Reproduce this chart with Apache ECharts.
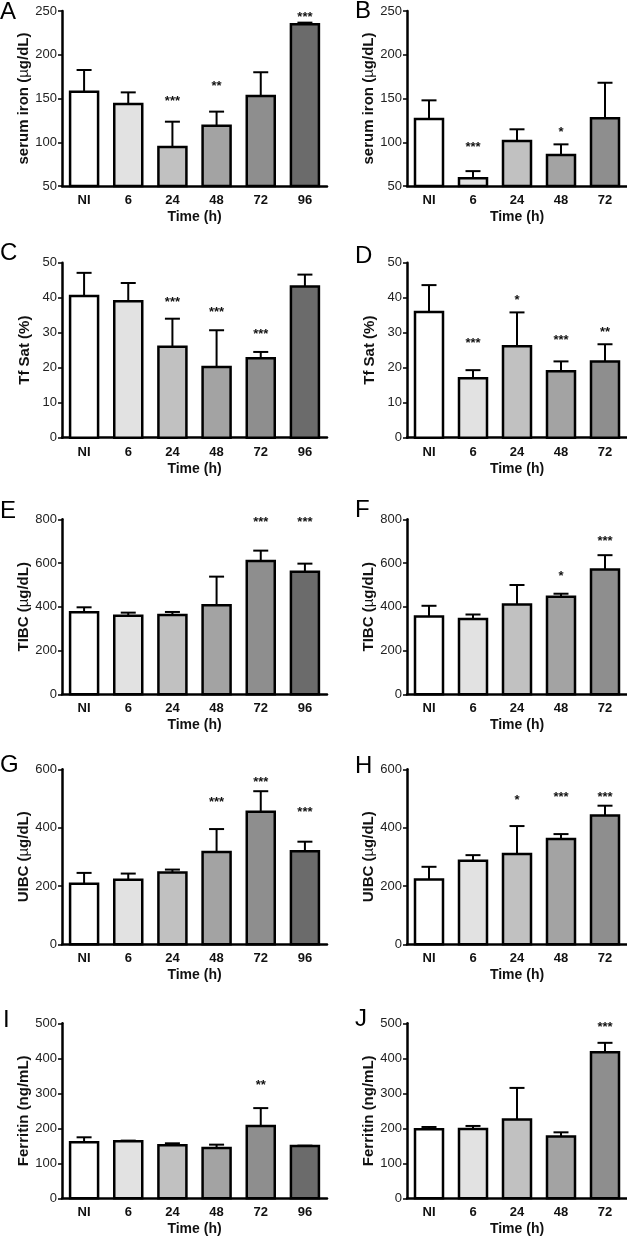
<!DOCTYPE html>
<html><head><meta charset="utf-8">
<script src="https://cdn.jsdelivr.net/npm/echarts@6/dist/echarts.min.js"></script>
<style>html,body{margin:0;padding:0;background:#fff}#c{width:627px;height:1238px}</style>
</head><body><div id="c"></div>
<script>
// ---------- DATA ----------
const catsLeft = ['NI', '6', '24', '48', '72', '96'];
const catsRight = ['NI', '6', '24', '48', '72'];
const barColors = ['#ffffff', '#e2e2e2', '#c1c1c1', '#a3a3a3', '#8e8e8e', '#6b6b6b'];

// A: serum iron (left)
const A_mean = [157.8, 143.7, 94.6, 119, 153, 234.8];
const A_top = [182.6, 157, 123.5, 135, 180, 236.7];
const A_sig = ['', '', '***', '**', '', '***'];
const A_sigAt = [null, null, 150, 167, null, 246.6];
// B: serum iron (right)
const B_mean = [126.6, 58.8, 101.4, 85.4, 127.3];
const B_top = [147.9, 67, 114.8, 97.6, 168];
const B_sig = ['', '***', '', '*', ''];
const B_sigAt = [null, 97.6, null, 114.8, null];
// C: Tf Sat (left)
const C_mean = [40.5, 39.0, 26.0, 20.2, 22.7, 43.2];
const C_top = [47.1, 44.2, 34.0, 30.7, 24.5, 46.6];
const C_sig = ['', '', '***', '***', '***', ''];
const C_sigAt = [null, null, 39.5, 36.7, 30.3, null];
// D: Tf Sat (right)
const D_mean = [35.9, 17.0, 26.1, 19.0, 21.8];
const D_top = [43.6, 19.3, 35.8, 21.8, 26.7];
const D_sig = ['', '***', '*', '***', '**'];
const D_sigAt = [null, 27.8, 40.2, 28.7, 30.8];
// E: TIBC (left)
const E_mean = [374.9, 359.6, 362.7, 406.9, 609.5, 560.8];
const E_top = [397.7, 373.3, 376.4, 537.9, 656.8, 597.3];
const E_sig = ['', '', '', '', '***', '***'];
const E_sigAt = [null, null, null, null, 800, 800];
// F: TIBC (right)
const F_mean = [355.6, 344.8, 410.7, 446, 570.1];
const F_top = [404.6, 364.8, 499.6, 459.8, 636];
const F_sig = ['', '', '', '*', '***'];
const F_sigAt = [null, null, null, 554.8, 711];
// G: UIBC (left)
const G_mean = [207.2, 220.9, 245.9, 316.5, 454.3, 318.8];
const G_top = [244.8, 242.5, 256.2, 395.1, 524.9, 351.8];
const G_sig = ['', '', '', '***', '***', '***'];
const G_sigAt = [null, null, null, 497.5, 565.9, 463.4];
// H: UIBC (right)
const H_mean = [222.1, 286.3, 309.2, 360.7, 442];
const H_top = [265.7, 305.7, 405.4, 377.9, 475.2];
const H_sig = ['', '', '*', '***', '***'];
const H_sigAt = [null, null, 502.7, 515.3, 515.3];
// I: Ferritin (left)
const I_mean = [160, 162.8, 151.3, 143.7, 206.9, 149.4];
const I_top = [174.3, 164.8, 157.1, 153.3, 257.7, 150.4];
const I_sig = ['', '', '', '', '**', ''];
const I_sigAt = [null, null, null, null, 332.4, null];
// J: Ferritin (right)
const J_mean = [197.1, 198.1, 225, 176.9, 417.3];
const J_top = [203.8, 206.7, 315.4, 188.5, 444.2];
const J_sig = ['', '', '', '', '***'];
const J_sigAt = [null, null, null, null, 498];

const xName = 'Time (h)';
const yNames = {
  iron: '{b|serum iron (}{m|µ}{b|g/dL)}',
  tf: '{b|Tf Sat (%)}',
  tibc: '{b|TIBC (}{m|µ}{b|g/dL)}',
  uibc: '{b|UIBC (}{m|µ}{b|g/dL)}',
  fer: '{b|Ferritin (ng/mL)}'
};

// ---------- LAYOUT ----------
const FONT = "'Liberation Sans', Arial, Helvetica, sans-serif";
const rowTops = [11, 262.7, 519.3, 769.3, 1023.3];
const plotH = 175;
const colLeft = [62, 407];
const colWidth = [265, 220];

const panels = [
  {L: 'A', row: 0, col: 0, mean: A_mean, top: A_top, sig: A_sig, sigAt: A_sigAt, min: 50, max: 250, step: 50, y: yNames.iron},
  {L: 'B', row: 0, col: 1, mean: B_mean, top: B_top, sig: B_sig, sigAt: B_sigAt, min: 50, max: 250, step: 50, y: yNames.iron},
  {L: 'C', row: 1, col: 0, mean: C_mean, top: C_top, sig: C_sig, sigAt: C_sigAt, min: 0, max: 50, step: 10, y: yNames.tf},
  {L: 'D', row: 1, col: 1, mean: D_mean, top: D_top, sig: D_sig, sigAt: D_sigAt, min: 0, max: 50, step: 10, y: yNames.tf},
  {L: 'E', row: 2, col: 0, mean: E_mean, top: E_top, sig: E_sig, sigAt: E_sigAt, min: 0, max: 800, step: 200, y: yNames.tibc},
  {L: 'F', row: 2, col: 1, mean: F_mean, top: F_top, sig: F_sig, sigAt: F_sigAt, min: 0, max: 800, step: 200, y: yNames.tibc},
  {L: 'G', row: 3, col: 0, mean: G_mean, top: G_top, sig: G_sig, sigAt: G_sigAt, min: 0, max: 600, step: 200, y: yNames.uibc},
  {L: 'H', row: 3, col: 1, mean: H_mean, top: H_top, sig: H_sig, sigAt: H_sigAt, min: 0, max: 600, step: 200, y: yNames.uibc},
  {L: 'I', row: 4, col: 0, mean: I_mean, top: I_top, sig: I_sig, sigAt: I_sigAt, min: 0, max: 500, step: 100, y: yNames.fer},
  {L: 'J', row: 4, col: 1, mean: J_mean, top: J_top, sig: J_sig, sigAt: J_sigAt, min: 0, max: 500, step: 100, y: yNames.fer}
];

const letterPos = {
  A: [0, 12], B: [355, 11], C: [0, 253], D: [355, 256], E: [0, 511],
  F: [355, 510], G: [0, 765], H: [355, 766], I: [3, 1020], J: [355, 1019]
};

const grids = [], xAxes = [], yAxes = [], series = [], graphics = [];

panels.forEach((p, k) => {
  const cats = p.col === 0 ? catsLeft : catsRight;
  grids.push({left: colLeft[p.col], top: rowTops[p.row], width: colWidth[p.col], height: plotH, containLabel: false});
  xAxes.push({
    type: 'category', gridIndex: k, data: cats, boundaryGap: true,
    axisLine: {lineStyle: {color: '#000', width: 2.5}},
    axisTick: {show: false},
    axisLabel: {color: '#111', fontFamily: FONT, fontWeight: 'bold', fontSize: 13, margin: 8},
    name: xName, nameLocation: 'middle', nameGap: 24,
    nameTextStyle: {color: '#111', fontFamily: FONT, fontWeight: 'bold', fontSize: 14}
  });
  yAxes.push({
    type: 'value', gridIndex: k, min: p.min, max: p.max, interval: p.step,
    axisLine: {show: true, lineStyle: {color: '#000', width: 2.5}},
    axisTick: {show: true, length: 4, lineStyle: {color: '#000', width: 1.5}},
    splitLine: {show: false},
    axisLabel: {color: '#222', fontFamily: FONT, fontSize: 13, margin: 5},
    name: p.y, nameLocation: 'middle', nameGap: 30,
    nameTextStyle: {
      color: '#111', fontFamily: FONT, fontSize: 15,
      rich: {
        b: {fontFamily: FONT, fontWeight: 'bold', fontSize: 15, color: '#111'},
        m: {fontFamily: FONT, fontWeight: 'normal', fontSize: 15, color: '#111'}
      }
    }
  });
  const data = p.mean.map((m, i) => [i, m, p.top[i], p.sigAt[i] == null ? NaN : p.sigAt[i]]);
  const sig = p.sig, yMin = p.min;
  series.push({
    type: 'custom', xAxisIndex: k, yAxisIndex: k, clip: false, z: 3,
    data: data,
    encode: {x: 0, y: 1},
    renderItem: function (params, api) {
      const i = api.value(0);
      const c = api.coord([i, api.value(1)]);
      const base = api.coord([i, yMin]);
      const e = api.coord([i, api.value(2)]);
      const x = c[0];
      const children = [
        {type: 'rect', shape: {x: x - 14, y: c[1], width: 28, height: base[1] - c[1]},
         style: {fill: barColors[i], stroke: '#000', lineWidth: 2.5}},
        {type: 'line', shape: {x1: x, y1: c[1], x2: x, y2: e[1]}, style: {stroke: '#000', lineWidth: 2}},
        {type: 'line', shape: {x1: x - 7.5, y1: e[1], x2: x + 7.5, y2: e[1]}, style: {stroke: '#000', lineWidth: 2}}
      ];
      const s = sig[params.dataIndex];
      if (s) {
        const sp = api.coord([i, api.value(3)]);
        children.push({type: 'text', style: {
          text: s, x: x, y: sp[1] + 3, align: 'center', verticalAlign: 'middle',
          fontFamily: FONT, fontWeight: 'bold', fontSize: 13, fill: '#111'
        }});
      }
      return {type: 'group', children: children};
    }
  });
  const lp = letterPos[p.L];
  graphics.push({type: 'text', left: lp[0], top: lp[1] - 12, z: 10,
    style: {text: p.L, fontFamily: FONT, fontSize: 24, fontWeight: 'normal', fill: '#000'}});
});

const chart = echarts.init(document.getElementById('c'), null, {renderer: 'canvas'});
chart.setOption({
  animation: false,
  backgroundColor: '#fff',
  grid: grids, xAxis: xAxes, yAxis: yAxes, series: series, graphic: graphics
});
</script></body></html>
